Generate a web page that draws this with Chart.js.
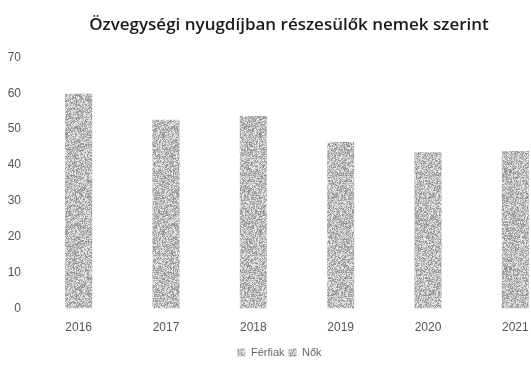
<!DOCTYPE html>
<html>
<head>
<meta charset="utf-8">
<script src="https://cdn.jsdelivr.net/npm/chart.js@4/dist/chart.umd.min.js"></script>
<style>
  html, body { margin: 0; padding: 0; background: #fff; overflow: hidden; }
  #wrap { position: relative; width: 578px; height: 370px; }
</style>
</head>
<body>
<div id="wrap"><canvas id="widowChart"></canvas></div>
<script>
const years = ['2016', '2017', '2018', '2019', '2020', '2021'];
// men are not broken out in the bars, only listed in the legend
const ferfiak = [null, null, null, null, null, null];
const nok = [59.9, 52.6, 53.7, 46.4, 43.6, 43.9];
const yTicks = [0, 10, 20, 30, 40, 50, 60, 70];

// grainy gray fill from a fixed-seed xorshift, same texture every run
function grainPattern(ctx) {
    const n = 97;
    const c = document.createElement('canvas');
    c.width = n; c.height = n;
    const g = c.getContext('2d');
    const img = g.createImageData(n, n);
    let s = 2463534242;
    for (let i = 0; i < n * n; i++) {
        s ^= s << 13; s ^= s >>> 17; s ^= s << 5;
        const v = 136 + Math.round(((s >>> 0) & 255) * 0.42);
        img.data[i * 4] = v; img.data[i * 4 + 1] = v; img.data[i * 4 + 2] = v; img.data[i * 4 + 3] = 255;
    }
    g.putImageData(img, 0, 0);
    return ctx.createPattern(c, 'repeat');
}

const ctx = document.getElementById('widowChart').getContext('2d');
const grain = grainPattern(ctx);

// centre the title over the region right of the y labels
const titleShift = {
    id: 'titleShift',
    afterLayout: (chart) => { if (chart.titleBlock) chart.titleBlock.left = 19; }
};

new Chart(ctx, {
    type: 'bar',
    data: {
        labels: years,
        datasets: [
            { label: 'Férfiak', data: ferfiak, backgroundColor: grain },
            { label: 'Nők', data: nok, backgroundColor: grain }
        ]
    },
    options: {
        responsive: true,
        maintainAspectRatio: false,
        animation: false,
        datasets: { bar: { categoryPercentage: 1, barPercentage: 0.31 } },
        layout: { padding: { top: 6, right: 19, bottom: 2, left: 0 } },
        plugins: {
            title: {
                display: true,
                text: 'Özvegységi nyugdíjban részesülők nemek szerint',
                color: '#1a1a1a',
                font: { family: 'Open Sans', size: 17, weight: '600' },
                padding: { top: 9, bottom: 22 }
            },
            legend: {
                position: 'bottom',
                labels: {
                    color: '#666',
                    font: { family: 'Liberation Sans', size: 11 },
                    boxWidth: 8,
                    boxHeight: 8,
                    padding: 4
                }
            },
            tooltip: { enabled: false }
        },
        scales: {
            x: {
                stacked: true,
                grid: { display: false },
                border: { display: false },
                afterFit: (scale) => { scale.height += 4; },
                ticks: { color: '#555', font: { family: 'Liberation Sans', size: 12 }, padding: 4 }
            },
            y: {
                stacked: true,
                min: 0,
                max: 70,
                grid: { display: false },
                border: { display: false },
                afterBuildTicks: (scale) => { scale.ticks = yTicks.map(v => ({ value: v })); },
                afterFit: (scale) => { scale.width = 35; },
                ticks: { color: '#555', font: { family: 'Liberation Sans', size: 12 }, padding: 6 }
            }
        }
    },
    plugins: [titleShift]
});
</script>
</body>
</html>
